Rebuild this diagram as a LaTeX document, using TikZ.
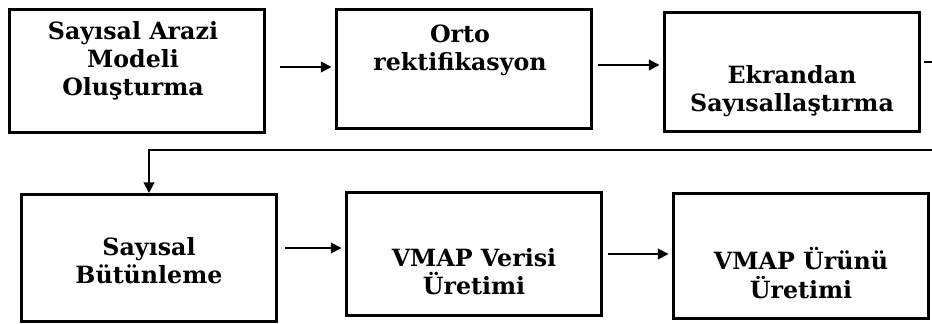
\documentclass[tikz,border=0pt]{standalone}
\usepackage{fontspec}
\setmainfont{DejaVu Serif}
\usetikzlibrary{positioning, arrows.meta, calc}

\begin{document}
\begin{tikzpicture}[x=0.02cm, y=-0.02cm, >=Latex,
      font={\fontsize{13.5}{16}\selectfont\bfseries},
      box/.style ={draw, line width=1.7pt, minimum width=5.1cm, minimum height=2.46cm, inner sep=0pt},
      txt/.style ={align=center, inner sep=0pt},
      flow/.style={->, line width=1pt, >={Triangle[length=6pt, width=6pt]}}]
    \clip (0,0) rectangle (932,324);
    % --- TOP ROW: model, ortho-rectification, on-screen digitising ---
    \node[box] (dem)  at (137,71) {};
    \node[txt] (demtxt)  at ($(dem.center)+(-4,-10)$) {Sayısal Arazi\\ Modeli\\ Oluşturma};
    \node[box, minimum height=2.4cm] (orto) at (464,69) {};
    \node[txt] (ortotxt) at ($(orto.center)+(-4,-19)$) {Orto\\ rektifikasyon};
    \node[box, minimum height=2.38cm] (ekr)  at (792,72) {};
    \node[txt] (ekrtxt)  at ($(ekr.center)+(0,19)$) {Ekrandan\\ Sayısallaştırma};
    % --- BOTTOM ROW: integration and the two VMAP steps ---
    \node[box, minimum height=2.54cm] (butun) at (149,258) {};
    \node[txt] (butuntxt) at ($(butun.center)+(0,3)$) {Sayısal\\ Bütünleme};
    \node[box] (vmapv) at (474,254) {};
    \node[txt] (vmapvtxt) at ($(vmapv.center)+(0,18)$) {VMAP Verisi\\ Üretimi};
    \node[box, minimum height=2.52cm] (vmapu) at (801,256) {};
    \node[txt] (vmaputxt) at ($(vmapu.center)+(0,17)$) {VMAP Ürünü\\ Üretimi};
    % --- connectors ---
    \draw[flow, shorten <=8pt, shorten >=2pt] ([yshift=0.08cm]dem.east) -- ([yshift=0.08cm]dem.east -| orto.west);
    \draw[flow, shorten <=3pt, shorten >=2pt] ([yshift=0.08cm]orto.east) -- ([yshift=0.08cm]orto.east -| ekr.west);
    \coordinate (bend) at (950,150);
    \draw[flow, shorten <=2pt] ([yshift=0.2cm]ekr.east) -| (bend) -| (butun.north);
    \draw[flow, shorten <=4pt, shorten >=2pt] ([yshift=0.2cm]butun.east) -- ([yshift=0.2cm]butun.east -| vmapv.west);
    \draw[flow, shorten <=3pt, shorten >=2pt] (vmapv.east) -- (vmapv.east -| vmapu.west);
  \end{tikzpicture}
\end{document}
